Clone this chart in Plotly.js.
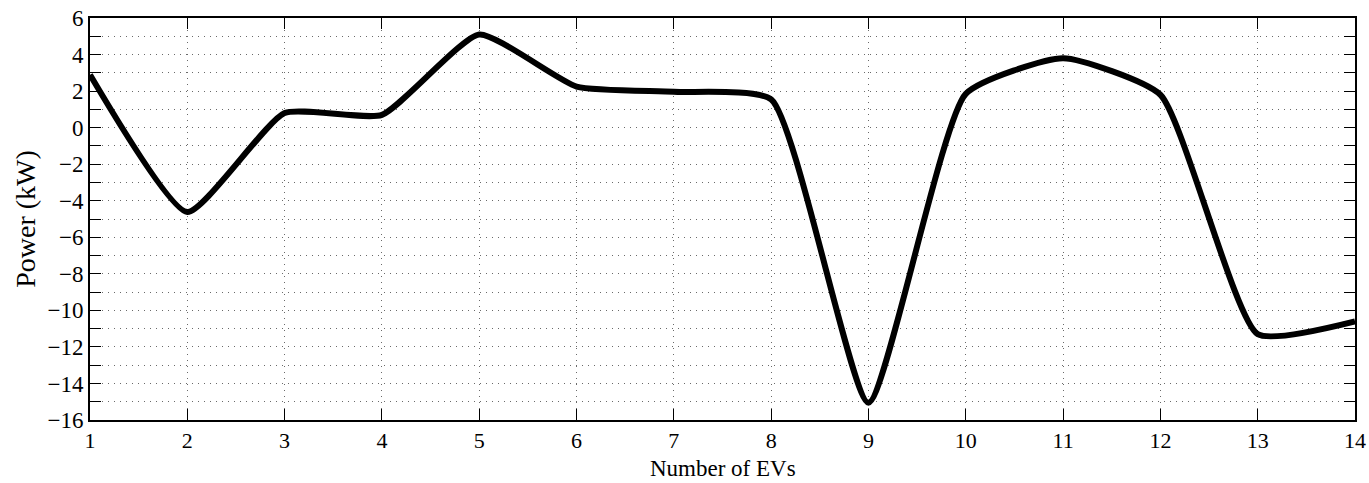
<!DOCTYPE html>
<html>
<head>
<meta charset="utf-8">
<script src="https://cdn.plot.ly/plotly-3.0.1.min.js"></script>
<style>html,body{margin:0;padding:0;background:#fff;}#chart{width:1369px;height:483px;}</style>
</head>
<body>
<div id="chart"></div>
<script>
// Data
const numEVs = [1, 2, 3, 4, 5, 6, 7, 8, 9, 10, 11, 12, 13, 14];
const powerKW = [2.9, -4.62, 0.8, 0.7, 5.1, 2.25, 1.96, 1.55, -15.05, 1.85, 3.8, 1.8, -11.3, -10.6];

const xTitle = 'Number of EVs';
const yTitle = 'Power (kW)';

const gridCol = '#6a6a6a';
const fontFam = '"Liberation Serif", "Times New Roman", serif';

const trace = {
  x: numEVs,
  y: powerKW,
  type: 'scatter',
  mode: 'lines',
  line: {color: '#000', width: 6, shape: 'spline', smoothing: 0.5},
  hoverinfo: 'x+y'
};

const layout = {
  width: 1369,
  height: 483,
  margin: {l: 90, r: 14, t: 18, b: 63},
  paper_bgcolor: '#fff',
  plot_bgcolor: '#fff',
  showlegend: false,
  font: {family: fontFam, color: '#000', size: 22},
  xaxis: {
    range: [1, 14],
    dtick: 1,
    tick0: 1,
    ticks: 'inside',
    ticklen: 11,
    tickwidth: 1,
    tickcolor: '#000',
    showline: true,
    linecolor: '#000',
    linewidth: 2,
    mirror: 'allticks',
    showgrid: true,
    gridcolor: gridCol,
    griddash: '1px,5px',
    gridwidth: 1,
    zeroline: false,
    tickfont: {family: fontFam, size: 22, color: '#000'}
  },
  yaxis: {
    range: [-16, 6],
    dtick: 2,
    tick0: 0,
    ticks: 'inside',
    ticklen: 11,
    tickwidth: 1,
    tickcolor: '#000',
    showline: true,
    linecolor: '#000',
    linewidth: 2,
    mirror: 'allticks',
    showgrid: true,
    gridcolor: gridCol,
    griddash: '1px,5px',
    gridwidth: 1,
    zeroline: false,
    tickfont: {family: fontFam, size: 23, color: '#000'},
    minor: {
      dtick: 1,
      ticks: 'inside',
      ticklen: 11,
      tickwidth: 1,
      tickcolor: '#000',
      showgrid: true,
      gridcolor: gridCol,
      griddash: '1px,5px',
      gridwidth: 1
    },
    title: {text: yTitle, font: {family: fontFam, size: 28, color: '#000'}, standoff: 4}
  },
  annotations: [{
    text: xTitle,
    xref: 'paper', yref: 'paper',
    x: 0.5, y: -0.1555,
    xanchor: 'center', yanchor: 'bottom',
    showarrow: false,
    font: {family: fontFam, size: 23, color: '#000'}
  }]
};

Plotly.newPlot('chart', [trace], layout, {displayModeBar: false, staticPlot: true});
</script>
</body>
</html>
